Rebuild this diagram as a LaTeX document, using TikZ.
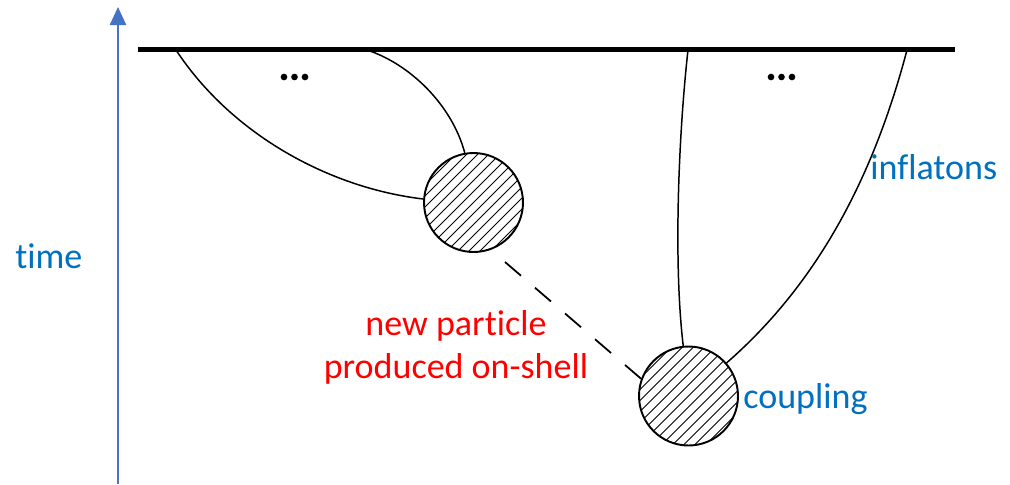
\documentclass[tikz,border=0pt]{standalone}
\usepackage{fontspec}
\setmainfont{Carlito}[Ligatures=NoCommon]
\usetikzlibrary{arrows.meta,calc}
\definecolor{lblblue}{HTML}{0070C0}
\definecolor{axblue}{HTML}{4472C4}
\begin{document}
\begin{tikzpicture}[x=0.02cm,y=-0.02cm,
  blob/.style={circle,draw,line width=1.1pt,minimum size=1.98cm,inner sep=0pt,
    path picture={\foreach \i in {-14,...,14}{\draw[line width=0.45pt] ([xshift=\i*0.22cm]path picture bounding box.center) ++(-1.5cm,-1.5cm) -- ++(3cm,3cm);}}},
  wire/.style={line width=0.85pt},
  lbl/.style={font=\fontsize{20.5}{24.4}\selectfont,inner sep=0pt},
  dot/.style={circle,fill,inner sep=0pt,minimum size=3.8pt}]
\fill[white] (0,0) rectangle (1010,484);
\useasboundingbox (0,0) rectangle (1010,484);
% time axis
\coordinate (tb) at (118,484);
\coordinate (tt) at (118,7);
\draw[axblue,line width=1.4pt,-{Triangle[length=0.36cm,width=0.32cm]}] (tb) -- (tt);
% boundary
\coordinate (bl) at (138,49.5);
\coordinate (br) at (955,49.5);
\draw[line width=2.4pt] (bl) -- (br);
% blobs
\node[blob] (c1) at (473.5,202.5) {};
\node[blob] (c2) at (688.5,396) {};
% lines
\coordinate (a1) at (176,50);
\coordinate (a2) at (367,50);
\coordinate (a3) at (688,50);
\coordinate (a4) at (907,50);
\draw[wire] (a1) .. controls (232,135) and (330,188) .. (c1.176);
\draw[wire] (a2) .. controls (410,64) and (452,105) .. (c1.100);
\draw[wire] (a3) .. controls (679,130) and (673,260) .. (c2.96);
\draw[wire] (a4) .. controls (870,190) and (810,290) .. (c2.41);
% dots
\node[dot] (d1) at (284,77) {};
\node[dot] (d2) at (294.5,77) {};
\node[dot] (d3) at (305,77) {};
\node[dot] (e1) at (771,77) {};
\node[dot] (e2) at (781.5,77) {};
\node[dot] (e3) at (792,77) {};
% dashed propagator
\coordinate (p1) at (505,262);
\draw[line width=1pt,dash pattern=on 12pt off 10.5pt] (p1) -- (c2.160);
% labels
\node[lbl,lblblue,anchor=base west] (time) at (15,268) {time};
\node[lbl,lblblue,anchor=base west] (infl) at (870,179) {inflatons};
\node[lbl,lblblue,anchor=base west] (coup) at (743,408) {coupling};
\node[lbl,red,align=center,anchor=base] (np) at (456,378) {new particle\\produced on-shell};
\end{tikzpicture}
\end{document}
